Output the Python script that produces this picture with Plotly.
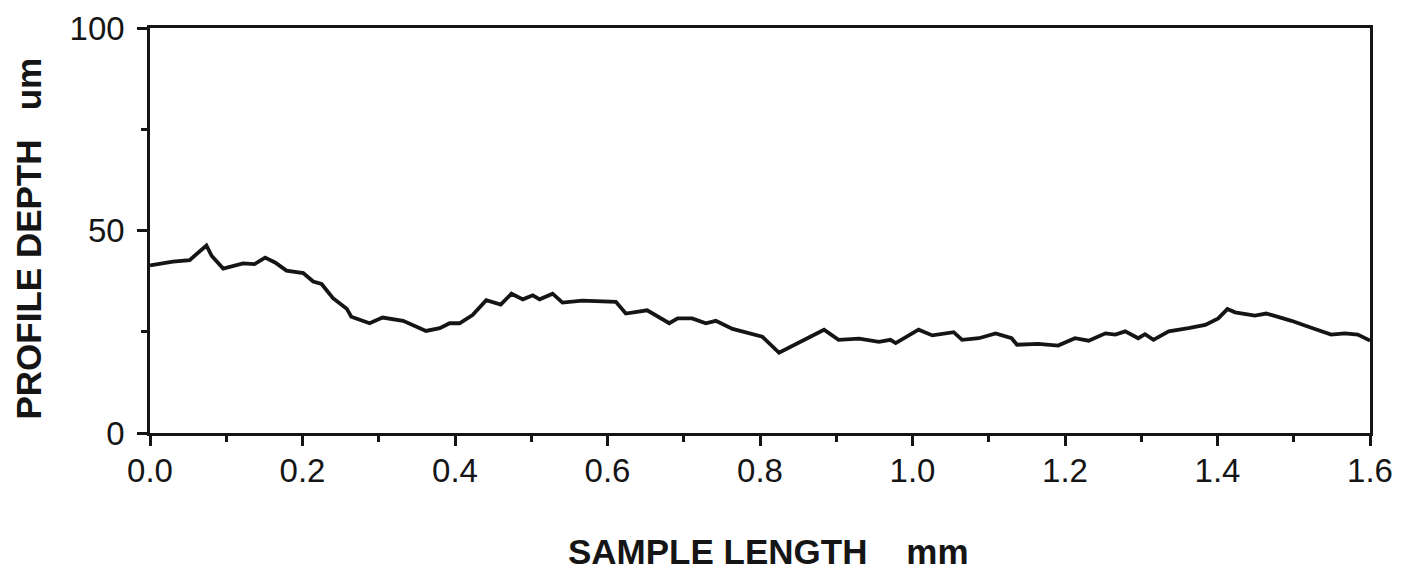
import plotly.graph_objects as go

# profile trace (sample length in mm, depth in um)
length_mm = [0.000, 0.030, 0.052, 0.074, 0.081, 0.096, 0.122, 0.137, 0.151, 0.164,
             0.179, 0.201, 0.214, 0.225, 0.240, 0.258, 0.264, 0.288, 0.305, 0.332,
             0.362, 0.380, 0.393, 0.406, 0.423, 0.441, 0.460, 0.474, 0.489, 0.502,
             0.511, 0.528, 0.541, 0.567, 0.611, 0.624, 0.652, 0.681, 0.692, 0.711,
             0.729, 0.742, 0.764, 0.790, 0.803, 0.825, 0.842, 0.860, 0.884, 0.903,
             0.930, 0.956, 0.971, 0.978, 1.008, 1.026, 1.054, 1.065, 1.087, 1.109,
             1.130, 1.137, 1.165, 1.191, 1.213, 1.231, 1.253, 1.266, 1.279, 1.296,
             1.305, 1.316, 1.336, 1.362, 1.384, 1.401, 1.413, 1.423, 1.449, 1.464,
             1.497, 1.523, 1.549, 1.567, 1.584, 1.600]
depth_um = [41.4, 42.3, 42.7, 46.3, 43.7, 40.6, 41.9, 41.7, 43.3, 42.1,
            40.1, 39.5, 37.4, 36.8, 33.3, 30.7, 28.7, 27.1, 28.5, 27.7,
            25.2, 25.9, 27.1, 27.1, 29.1, 32.8, 31.7, 34.4, 33.0, 34.0,
            33.0, 34.4, 32.2, 32.7, 32.4, 29.5, 30.3, 27.1, 28.3, 28.3,
            27.1, 27.7, 25.7, 24.3, 23.8, 19.8, 21.4, 23.0, 25.5, 23.0,
            23.3, 22.5, 23.0, 22.2, 25.5, 24.1, 24.9, 23.0, 23.4, 24.6,
            23.4, 21.8, 22.0, 21.6, 23.4, 22.8, 24.6, 24.3, 25.1, 23.4,
            24.4, 23.0, 25.1, 25.9, 26.7, 28.3, 30.6, 29.8, 29.0, 29.5,
            27.7, 26.0, 24.3, 24.6, 24.3, 22.8]

x_ticks = [0.0, 0.2, 0.4, 0.6, 0.8, 1.0, 1.2, 1.4, 1.6]
x_labels = ["0.0", "0.2", "0.4", "0.6", "0.8", "1.0", "1.2", "1.4", "1.6"]
y_ticks = [0, 50, 100]

INK = "#151515"
FONT = "Liberation Sans, Arial, sans-serif"

fig = go.Figure()
fig.add_trace(go.Scatter(x=length_mm, y=depth_um, mode="lines",
                         line=dict(color=INK, width=3.8), showlegend=False))

tickfont = dict(family=FONT, size=33, color=INK)
titlefont = dict(family=FONT, size=35, color=INK, weight="bold")

fig.update_xaxes(range=[0, 1.6], tickvals=x_ticks, ticktext=x_labels,
                 ticks="outside", ticklen=10, tickwidth=2.5, tickcolor=INK,
                 minor=dict(dtick=0.1, tick0=0, ticks="outside", ticklen=6,
                            tickwidth=2.5, tickcolor=INK),
                 showline=True, linecolor=INK, linewidth=2.5, mirror=True,
                 showgrid=False, zeroline=False, tickfont=tickfont,
                 ticklabelstandoff=-3, ticklabeloverflow="allow", automargin=False)
fig.update_yaxes(range=[0, 100], tickvals=y_ticks,
                 ticks="outside", ticklen=10, tickwidth=2.5, tickcolor=INK,
                 minor=dict(dtick=25, tick0=0, ticks="outside", ticklen=6,
                            tickwidth=2.5, tickcolor=INK),
                 showline=True, linecolor=INK, linewidth=2.5, mirror=True,
                 showgrid=False, zeroline=False, tickfont=tickfont,
                 ticklabelstandoff=6, ticklabeloverflow="allow", automargin=False)

# axis titles placed as annotations for exact position
fig.add_annotation(text="SAMPLE LENGTH\u00a0\u00a0\u00a0\u00a0mm", font=titlefont,
                   xref="paper", yref="paper", x=0.5, y=0, yshift=-118,
                   xshift=8, showarrow=False, yanchor="middle")
fig.add_annotation(text="PROFILE DEPTH\u00a0\u00a0\u00a0um", font=titlefont, textangle=-90,
                   xref="paper", yref="paper", x=0, y=0.5, xshift=-122, yshift=-8,
                   showarrow=False, xanchor="center")

fig.update_layout(width=1410, height=575, plot_bgcolor="white", paper_bgcolor="white",
                  margin=dict(l=142, r=48, t=20, b=150, autoexpand=False))

fig.write_html("out.html")
